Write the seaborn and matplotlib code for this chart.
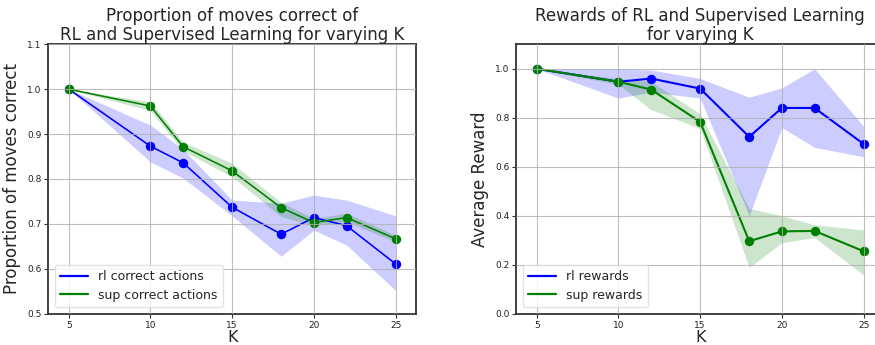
import numpy as np
import matplotlib
matplotlib.use("Agg")
import matplotlib.pyplot as plt
import seaborn as sns

# K values evaluated
K = [5, 10, 12, 15, 18, 20, 22, 25]

# Proportion of moves correct (mean, band low, band high)
rl_correct = [1.0, 0.873, 0.836, 0.737, 0.677, 0.714, 0.696, 0.611]
rl_correct_lo = [1.0, 0.838, 0.802, 0.718, 0.628, 0.686, 0.653, 0.552]
rl_correct_hi = [1.0, 0.920, 0.866, 0.753, 0.746, 0.764, 0.753, 0.718]

sup_correct = [1.0, 0.9625, 0.872, 0.818, 0.736, 0.703, 0.714, 0.667]
sup_correct_lo = [1.0, 0.952, 0.862, 0.805, 0.716, 0.696, 0.705, 0.660]
sup_correct_hi = [1.0, 0.972, 0.882, 0.835, 0.748, 0.712, 0.724, 0.675]

# Average reward (mean, band low, band high)
rl_reward = [1.0, 0.947, 0.960, 0.919, 0.722, 0.840, 0.840, 0.693]
rl_reward_lo = [1.0, 0.880, 0.905, 0.880, 0.400, 0.760, 0.679, 0.641]
rl_reward_hi = [1.0, 1.0, 0.995, 0.960, 0.884, 0.922, 1.0, 0.765]

sup_reward = [1.0, 0.947, 0.915, 0.783, 0.296, 0.336, 0.338, 0.255]
sup_reward_lo = [1.0, 0.935, 0.833, 0.756, 0.189, 0.290, 0.311, 0.158]
sup_reward_hi = [1.0, 0.960, 0.948, 0.815, 0.429, 0.400, 0.363, 0.342]

sns.set_style("ticks")
plt.rcParams["font.family"] = ["DejaVu Sans"]

fig = plt.figure(figsize=(8.75, 3.45), dpi=100)
ax1 = fig.add_axes([0.0552, 0.0907, 0.4202, 0.781])
ax2 = fig.add_axes([0.5901, 0.0907, 0.4202, 0.781])


def draw_panel(ax, series, ylim, yticks, title, ylabel, lw):
    for mean, lo, hi, color, label in series:
        ax.fill_between(K, lo, hi, color=color, alpha=0.2, linewidth=0, zorder=1)
        sns.lineplot(x=K, y=mean, ax=ax, color=color, label=label,
                     marker="o", markersize=6.8, markeredgewidth=0,
                     linewidth=lw, zorder=2)
    ax.set_xlim(3.75, 26.25)
    ax.set_ylim(*ylim)
    ax.set_xticks([5, 10, 15, 20, 25])
    ax.set_yticks(yticks)
    ax.set_yticklabels([f"{t:.1f}" for t in yticks])
    ax.grid(True, color="#b0b0b0", linewidth=0.8, alpha=0.8)
    ax.set_axisbelow(False)
    ax.tick_params(labelsize=6.5, length=3, width=0.8, color="#333333",
                   labelcolor="#222222", pad=2)
    for sp in ax.spines.values():
        sp.set_visible(True)
        sp.set_color("#333333")
        sp.set_linewidth(1.3)
    ax.set_title(title, fontsize=12, pad=3, linespacing=1.05)
    ax.set_xlabel("K", fontsize=11.5, labelpad=0)
    ax.set_ylabel(ylabel, fontsize=12, labelpad=4)
    leg = ax.legend(loc="lower left", fontsize=9, handlelength=2.2,
                    borderpad=0.45, labelspacing=0.45, frameon=True,
                    borderaxespad=0.5)
    leg.get_frame().set_edgecolor("#dddddd")
    for h in leg.get_lines():
        h.set_marker("")
        h.set_linewidth(1.6)


draw_panel(
    ax1,
    [(rl_correct, rl_correct_lo, rl_correct_hi, "blue", "rl correct actions"),
     (sup_correct, sup_correct_lo, sup_correct_hi, "green", "sup correct actions")],
    (0.5, 1.1), [0.5, 0.6, 0.7, 0.8, 0.9, 1.0, 1.1],
    "Proportion of moves correct of\nRL and Supervised Learning for varying K",
    "Proportion of moves correct", 1.15,
)

draw_panel(
    ax2,
    [(rl_reward, rl_reward_lo, rl_reward_hi, "blue", "rl rewards"),
     (sup_reward, sup_reward_lo, sup_reward_hi, "green", "sup rewards")],
    (0.0, 1.1), [0.0, 0.2, 0.4, 0.6, 0.8, 1.0],
    "Rewards of RL and Supervised Learning\nfor varying K",
    "Average Reward", 1.5,
)

fig.savefig("out.png", dpi=100)
